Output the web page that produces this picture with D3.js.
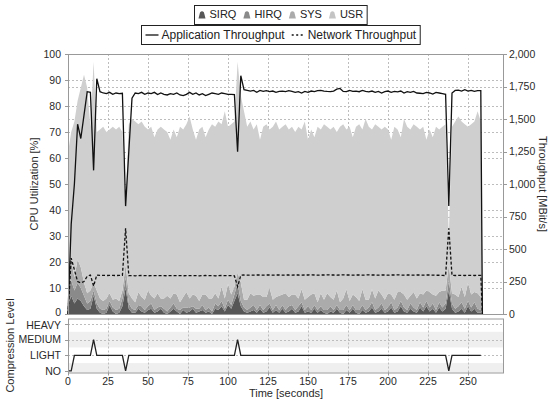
<!DOCTYPE html>
<html>
<head>
<meta charset="utf-8">
<script src="https://cdn.jsdelivr.net/npm/d3@7"></script>
<style>
  body { margin: 0; background: #fff; }
  svg { display: block; font-family: "Liberation Sans", Arial, sans-serif; }
</style>
</head>
<body>
<div id="chart"></div>
<script>
(function () {
  'use strict';

  // sample times (seconds), last sample is where the run stops
  var seconds = d3.range(0, 260, 2).concat([259]);

  // CPU utilization per class [%]
  var sirq = [
    3, 7, 4, 6, 5, 3, 1.5, 2, 7, 2,
    0.5, 0, 0.5, 3.5, 1, 0, 0.5, 3, 10, 2,
    0.5, 0.5, 2, 1, 0.5, 1.5, 2, 0.5, 1, 2,
    0.5, 0, 1, 2, 1, 0, 1.5, 0.5, 1, 2,
    0.5, 1, 1.5, 0.5, 1, 0, 2, 1.5, 3, 1,
    3.5, 2, 5, 8, 3, 1, 0.5, 1, 1.5, 0.5,
    2, 0.5, 1, 2.5, 0.5, 1.5, 0.5, 2, 0.5, 1,
    2, 0.5, 1, 3, 0.5, 1, 0.5, 2, 0.5, 1.5,
    0.5, 0, 1, 0.5, 2, 0.5, 0, 1.5, 0.5, 2,
    0.5, 0, 1.5, 0.5, 1, 2.5, 0.5, 1, 2, 0.5,
    1, 2.5, 0.5, 1, 3, 1, 0.5, 2, 1, 0.5,
    2.5, 1, 3, 1, 2, 0.5, 2.5, 1, 2, 9,
    2, 0.5, 1, 2, 0.5, 3, 1, 2, 0.5, 0.5,
    0
  ];
  var hirq = [
    9, 6, 5, 6, 5, 4, 2.5, 3, 2, 2,
    1.5, 1.5, 1.5, 1.5, 1.5, 1.5, 1.5, 3, 4, 2,
    1.5, 1, 1.5, 2, 1, 1.5, 2, 1, 1.5, 1,
    1.5, 1, 1.5, 2, 1, 1.5, 1, 2, 1.5, 1,
    1.5, 1, 2, 1, 1.5, 1, 2, 1.5, 2, 1,
    2, 1.5, 2.5, 4, 2, 1.5, 1, 1.5, 2, 1,
    1.5, 1, 2, 1.5, 1, 2, 1, 1.5, 1, 2,
    1.5, 1, 2, 1.5, 1, 2, 1, 1.5, 1, 1.5,
    1, 1.5, 2, 1, 1.5, 1, 1.5, 2, 1, 1.5,
    1, 1.5, 2, 1, 1.5, 2, 1, 1.5, 2, 1,
    1.5, 2, 1, 1.5, 2, 1.5, 1, 2, 1.5, 1,
    2, 1.5, 2, 1.5, 2, 1, 2, 1.5, 2, 4,
    2, 1.5, 2, 2.5, 1.5, 2, 1.5, 2.5, 1.5, 1,
    0
  ];
  var sys = [
    8, 8, 5, 9, 8, 5, 4, 4, 3, 5,
    4, 3.5, 4, 3, 3, 4.5, 3, 3, 5, 4,
    4, 3, 5, 3.5, 4, 6, 3, 4.5, 5.5, 3,
    4, 6, 3.5, 4, 5.5, 3, 4, 6, 3.5, 4.5,
    5, 3, 4, 6, 3.5, 5, 4, 3, 5.5, 4,
    6, 4, 3, 4, 7, 3, 4, 5.5, 3.5, 6,
    4, 5, 3.5, 6, 4, 3, 5.5, 4, 6.5, 3.5,
    4, 6, 3, 5, 4, 3.5, 6, 4.5, 3, 5,
    4, 6.5, 3.5, 4, 5.5, 3, 4.5, 6, 3.5, 4,
    5, 3.5, 6, 4, 3, 5, 4.5, 6.5, 3.5, 4,
    5.5, 3, 4, 6, 3.5, 5, 4, 3, 6, 4.5,
    3.5, 5, 4, 6, 3.5, 5.5, 4, 6.5, 5, 6,
    4, 5.5, 3.5, 6, 4.5, 7, 5, 4, 6, 5,
    0
  ];
  // total CPU utilization (top of the USR layer) [%]
  var cpuTotal = [
    62, 70, 74, 82, 87, 92, 87, 72, 97, 70,
    71, 72, 70, 71, 72, 71, 72, 70, 42, 73,
    75, 74, 73, 74, 72, 71, 72, 68, 71, 72,
    71, 70, 67, 71, 68, 72, 71, 73, 76, 71,
    67, 71, 72, 68, 71, 73, 72, 74, 73, 78,
    72, 73, 74, 97, 84, 78, 72, 74, 71, 73,
    67, 72, 73, 71, 72, 74, 71, 72, 73, 71,
    72, 70, 72, 71, 74, 67, 71, 68, 72, 71,
    73, 72, 71, 72, 70, 72, 73, 71, 72, 68,
    72, 73, 71, 75, 72, 71, 73, 72, 71, 72,
    71, 67, 72, 71, 68, 75, 72, 71, 73, 72,
    71, 72, 67, 71, 68, 72, 71, 72, 73, 30,
    72, 74, 76, 74, 73, 72, 73, 74, 78, 74,
    0
  ];

  // throughput [MBit/s]
  var appThroughput = [
    0, 690, 1000, 1460, 1350, 1530, 1710, 1705, 1105, 1810,
    1710, 1700, 1695, 1705, 1690, 1700, 1695, 1698, 830, 1250,
    1660, 1700, 1695, 1705, 1690, 1700, 1695, 1705, 1688, 1700,
    1690, 1685, 1695, 1690, 1700, 1685, 1680, 1690, 1705, 1690,
    1700, 1685, 1695, 1680, 1690, 1700, 1695, 1690, 1700, 1695,
    1690, 1690, 1688, 1248, 1833, 1725, 1720, 1715, 1720, 1705,
    1720, 1712, 1718, 1710, 1715, 1705, 1712, 1715, 1710, 1718,
    1712, 1705, 1710, 1700, 1712, 1705, 1715, 1710, 1718, 1720,
    1715, 1712, 1710, 1715, 1730, 1735, 1712, 1710, 1720, 1712,
    1715, 1710, 1720, 1712, 1708, 1715, 1705, 1712, 1700, 1710,
    1715, 1705, 1712, 1708, 1715, 1700, 1710, 1705, 1712, 1700,
    1698, 1695, 1705, 1700, 1692, 1705, 1700, 1695, 1690, 830,
    1700, 1720, 1722, 1715, 1725, 1715, 1720, 1712, 1718, 1718,
    0
  ];
  var netThroughput = [
    0, 430, 340, 250, 240, 250, 290, 300, 215, 300,
    297, 297, 296, 297, 297, 296, 297, 297, 660, 295,
    295, 294, 295, 296, 295, 294, 295, 295, 296, 295,
    295, 294, 295, 295, 296, 295, 294, 295, 295, 296,
    295, 294, 295, 296, 295, 295, 294, 295, 296, 295,
    295, 295, 294, 210, 298, 300, 299, 300, 299, 300,
    300, 299, 300, 300, 299, 300, 300, 299, 300, 300,
    299, 300, 300, 299, 300, 300, 301, 300, 299, 300,
    300, 301, 300, 300, 299, 300, 301, 300, 300, 299,
    300, 300, 299, 300, 301, 300, 300, 299, 300, 300,
    299, 300, 300, 301, 300, 299, 300, 300, 299, 300,
    300, 299, 300, 300, 299, 298, 298, 297, 296, 660,
    297, 296, 297, 297, 296, 297, 297, 296, 297, 297,
    0
  ];

  // compression level per sample (0 = NO ... 3 = HEAVY)
  var compression = [
    0, 0, 1, 1, 1, 1, 1, 1, 2, 1,
    1, 1, 1, 1, 1, 1, 1, 1, 0, 1,
    1, 1, 1, 1, 1, 1, 1, 1, 1, 1,
    1, 1, 1, 1, 1, 1, 1, 1, 1, 1,
    1, 1, 1, 1, 1, 1, 1, 1, 1, 1,
    1, 1, 1, 2, 1, 1, 1, 1, 1, 1,
    1, 1, 1, 1, 1, 1, 1, 1, 1, 1,
    1, 1, 1, 1, 1, 1, 1, 1, 1, 1,
    1, 1, 1, 1, 1, 1, 1, 1, 1, 1,
    1, 1, 1, 1, 1, 1, 1, 1, 1, 1,
    1, 1, 1, 1, 1, 1, 1, 1, 1, 1,
    1, 1, 1, 1, 1, 1, 1, 1, 1, 0,
    1, 1, 1, 1, 1, 1, 1, 1, 1, 1
  ];
  var levelNames = ['NO', 'LIGHT', 'MEDIUM', 'HEAVY'];

  var cpuTicks = [0, 10, 20, 30, 40, 50, 60, 70, 80, 90, 100];
  var throughputTicks = [0, 250, 500, 750, 1000, 1250, 1500, 1750, 2000];
  var timeTicks = [0, 25, 50, 75, 100, 125, 150, 175, 200, 225, 250];

  var cpuKeys = ['sirq', 'hirq', 'sys', 'usr'];
  var cpuLabels = ['SIRQ', 'HIRQ', 'SYS', 'USR'];
  var cpuColors = ['#575757', '#8a8a8a', '#ababab', '#cfcfcf'];

  var width = 549, height = 400;
  var plot = {left: 68, right: 504, top: 54, bottom: 314};
  var comp = {top: 318.5, bottom: 372.5};
  var textColor = '#2a2a2a';

  var svg = d3.select('#chart').append('svg')
    .attr('width', width)
    .attr('height', height);

  var x = d3.scaleLinear().domain([0, 272.5]).range([plot.left, plot.right]);
  var yCpu = d3.scaleLinear().domain([0, 100]).range([plot.bottom, plot.top]);
  var yThr = d3.scaleLinear().domain([0, 2000]).range([plot.bottom, plot.top]);
  var yLevel = d3.scaleLinear().domain([-0.1, 3.35]).range([comp.bottom, comp.top]);

  // bands in the compression panel
  svg.append('g')
    .selectAll('rect')
    .data([0, 2])
    .enter()
    .append('rect')
    .attr('x', plot.left)
    .attr('width', plot.right - plot.left)
    .attr('y', function (d) { return yLevel(d + 0.5); })
    .attr('height', function (d) {
      return yLevel(Math.max(d - 0.5, -0.1)) - yLevel(d + 0.5);
    })
    .attr('fill', '#efefef');

  // grid lines
  var grid = svg.append('g')
    .attr('stroke', '#bdbdbd')
    .attr('stroke-width', 1)
    .attr('stroke-dasharray', '2,2');

  grid.selectAll('.cpu-grid')
    .data(cpuTicks.slice(1, -1))
    .enter()
    .append('line')
    .attr('x1', plot.left).attr('x2', plot.right)
    .attr('y1', function (d) { return Math.round(yCpu(d)) + 0.5; })
    .attr('y2', function (d) { return Math.round(yCpu(d)) + 0.5; });

  grid.selectAll('.thr-grid')
    .data(throughputTicks.slice(1, -1))
    .enter()
    .append('line')
    .attr('x1', plot.left).attr('x2', plot.right)
    .attr('y1', function (d) { return Math.round(yThr(d)) + 0.5; })
    .attr('y2', function (d) { return Math.round(yThr(d)) + 0.5; });

  grid.selectAll('.time-grid')
    .data(timeTicks.slice(1))
    .enter()
    .append('path')
    .attr('d', function (d) {
      var px = Math.round(x(d)) + 0.5;
      return 'M' + px + ',' + plot.top + 'V' + plot.bottom +
        'M' + px + ',' + comp.top + 'V' + comp.bottom;
    });

  grid.selectAll('.level-grid')
    .data([1, 2, 3])
    .enter()
    .append('line')
    .attr('x1', plot.left).attr('x2', plot.right)
    .attr('y1', function (d) { return Math.round(yLevel(d)) + 0.5; })
    .attr('y2', function (d) { return Math.round(yLevel(d)) + 0.5; });

  // stacked CPU areas
  var rows = seconds.map(function (t, i) {
    var lower = sirq[i] + hirq[i] + sys[i];
    return {
      t: t,
      sirq: sirq[i],
      hirq: hirq[i],
      sys: sys[i],
      usr: Math.max(0, cpuTotal[i] - lower)
    };
  });

  var stacked = d3.stack().keys(cpuKeys)(rows);

  var area = d3.area()
    .x(function (d) { return x(d.data.t); })
    .y0(function (d) { return yCpu(d[0]); })
    .y1(function (d) { return yCpu(d[1]); });

  svg.append('g')
    .selectAll('path')
    .data(stacked)
    .enter()
    .append('path')
    .attr('d', area)
    .attr('fill', function (d, i) { return cpuColors[i]; });

  // throughput lines
  var thrLine = d3.line()
    .x(function (d) { return x(d.t); })
    .y(function (d) { return yThr(d.v); });

  var netPoints = seconds.map(function (t, i) { return {t: t, v: netThroughput[i]}; });
  var appPoints = seconds.map(function (t, i) { return {t: t, v: appThroughput[i]}; });

  svg.append('path')
    .attr('d', thrLine(netPoints))
    .attr('fill', 'none')
    .attr('stroke', '#111')
    .attr('stroke-width', 1.3)
    .attr('stroke-dasharray', '3,2');

  svg.append('path')
    .attr('d', thrLine(appPoints))
    .attr('fill', 'none')
    .attr('stroke', '#111')
    .attr('stroke-width', 1.3);

  // compression level line
  var levelLine = d3.line()
    .x(function (d, i) { return x(seconds[i]); })
    .y(function (d) { return yLevel(d); });

  svg.append('path')
    .attr('d', levelLine(compression))
    .attr('fill', 'none')
    .attr('stroke', '#222')
    .attr('stroke-width', 1.3);

  // frames
  svg.append('rect')
    .attr('x', plot.left + 0.5).attr('y', plot.top + 0.5)
    .attr('width', plot.right - plot.left - 1)
    .attr('height', plot.bottom - plot.top)
    .attr('fill', 'none')
    .attr('stroke', '#999');

  svg.append('rect')
    .attr('x', plot.left + 0.5).attr('y', comp.top + 0.5)
    .attr('width', plot.right - plot.left - 1)
    .attr('height', comp.bottom - comp.top)
    .attr('fill', 'none')
    .attr('stroke', '#999');

  // axes
  var axisText = svg.append('g')
    .attr('font-size', 10.5)
    .attr('fill', textColor);

  var tickMarks = svg.append('g')
    .attr('stroke', '#999');

  axisText.selectAll('.cpu-label')
    .data(cpuTicks)
    .enter()
    .append('text')
    .attr('x', plot.left - 7)
    .attr('y', function (d) { return yCpu(d); })
    .attr('dy', function (d) { return d === 0 ? '0.2em' : '0.35em'; })
    .attr('text-anchor', 'end')
    .text(function (d) { return d; });

  tickMarks.selectAll('.cpu-tick')
    .data(cpuTicks)
    .enter()
    .append('line')
    .attr('x1', plot.left - 3).attr('x2', plot.left)
    .attr('y1', function (d) { return Math.round(yCpu(d)) + 0.5; })
    .attr('y2', function (d) { return Math.round(yCpu(d)) + 0.5; });

  axisText.selectAll('.thr-label')
    .data(throughputTicks)
    .enter()
    .append('text')
    .attr('x', plot.right + 5)
    .attr('y', function (d) { return yThr(d); })
    .attr('dy', '0.35em')
    .text(function (d) { return d3.format(',')(d); });

  tickMarks.selectAll('.thr-tick')
    .data(throughputTicks)
    .enter()
    .append('line')
    .attr('x1', plot.right).attr('x2', plot.right + 3)
    .attr('y1', function (d) { return Math.round(yThr(d)) + 0.5; })
    .attr('y2', function (d) { return Math.round(yThr(d)) + 0.5; });

  axisText.selectAll('.level-label')
    .data(levelNames)
    .enter()
    .append('text')
    .attr('x', plot.left - 7)
    .attr('y', function (d, i) { return yLevel(i); })
    .attr('dy', function (d, i) { return i === 3 ? '0.45em' : '0.35em'; })
    .attr('text-anchor', 'end')
    .text(function (d) { return d; });

  tickMarks.selectAll('.level-tick')
    .data(levelNames)
    .enter()
    .append('line')
    .attr('x1', plot.left - 3).attr('x2', plot.left)
    .attr('y1', function (d, i) { return Math.round(yLevel(i)) + 0.5; })
    .attr('y2', function (d, i) { return Math.round(yLevel(i)) + 0.5; });

  axisText.selectAll('.time-label')
    .data(timeTicks)
    .enter()
    .append('text')
    .attr('x', function (d) { return x(d); })
    .attr('y', comp.bottom + 12)
    .attr('text-anchor', 'middle')
    .text(function (d) { return d; });

  tickMarks.selectAll('.time-tick')
    .data(timeTicks)
    .enter()
    .append('line')
    .attr('x1', function (d) { return Math.round(x(d)) + 0.5; })
    .attr('x2', function (d) { return Math.round(x(d)) + 0.5; })
    .attr('y1', comp.bottom).attr('y2', comp.bottom + 3);

  // axis titles
  var titles = svg.append('g')
    .attr('font-size', 11)
    .attr('fill', textColor);

  titles.append('text')
    .attr('transform', 'translate(' + [38, (plot.top + plot.bottom) / 2] + ') rotate(-90)')
    .attr('text-anchor', 'middle')
    .text('CPU Utilization [%]');

  titles.append('text')
    .attr('transform', 'translate(' + [539, (plot.top + plot.bottom) / 2] + ') rotate(90)')
    .attr('text-anchor', 'middle')
    .text('Throughput [MBit/s]');

  titles.append('text')
    .attr('transform', 'translate(' + [14, (comp.top + comp.bottom) / 2] + ') rotate(-90)')
    .attr('text-anchor', 'middle')
    .text('Compression Level');

  titles.append('text')
    .attr('x', (plot.left + plot.right) / 2)
    .attr('y', 397)
    .attr('text-anchor', 'middle')
    .text('Time [seconds]');

  // legends
  var legendCenter = 280;

  function buildLegend(top, boxHeight, fontSize, items, drawSymbol, symbolWidth, textGap) {
    var g = svg.append('g');
    var box = g.append('rect')
      .attr('y', top + 0.5)
      .attr('height', boxHeight)
      .attr('fill', '#fff')
      .attr('stroke', '#222');
    var cursor = 0, pad = 4, itemGap = 7;
    var content = g.append('g');
    items.forEach(function (item, i) {
      var sym = content.append('g')
        .attr('transform', 'translate(' + [cursor, top + boxHeight / 2] + ')');
      drawSymbol(sym, i);
      cursor += symbolWidth + textGap;
      var t = content.append('text')
        .attr('x', cursor)
        .attr('y', top + boxHeight / 2)
        .attr('dy', '0.36em')
        .attr('font-size', fontSize)
        .attr('fill', '#222')
        .text(item);
      cursor += t.node().getComputedTextLength();
      if (i < items.length - 1) { cursor += itemGap; }
    });
    var total = cursor + pad * 2;
    var left = Math.round(legendCenter - total / 2) + 0.5;
    box.attr('x', left).attr('width', total);
    content.attr('transform', 'translate(' + (left + pad) + ',0)');
  }

  buildLegend(5, 19, 11, cpuLabels, function (sym, i) {
    sym.append('path')
      .attr('d', 'M0,4 L1.6,-2.2 Q3.5,-4.4 5.4,-2.2 L7,4 Z')
      .attr('fill', cpuColors[i] === '#cfcfcf' ? '#c4c4c4' : cpuColors[i]);
  }, 7, 4);

  buildLegend(25, 19, 12, ['Application Throughput', 'Network Throughput'], function (sym, i) {
    sym.append('line')
      .attr('x1', 0).attr('x2', 13)
      .attr('y1', 0.5).attr('y2', 0.5)
      .attr('stroke', '#111')
      .attr('stroke-width', 1.3)
      .attr('stroke-dasharray', i === 0 ? null : '2,2.5');
  }, 13, 3);
}());
</script>
</body>
</html>
